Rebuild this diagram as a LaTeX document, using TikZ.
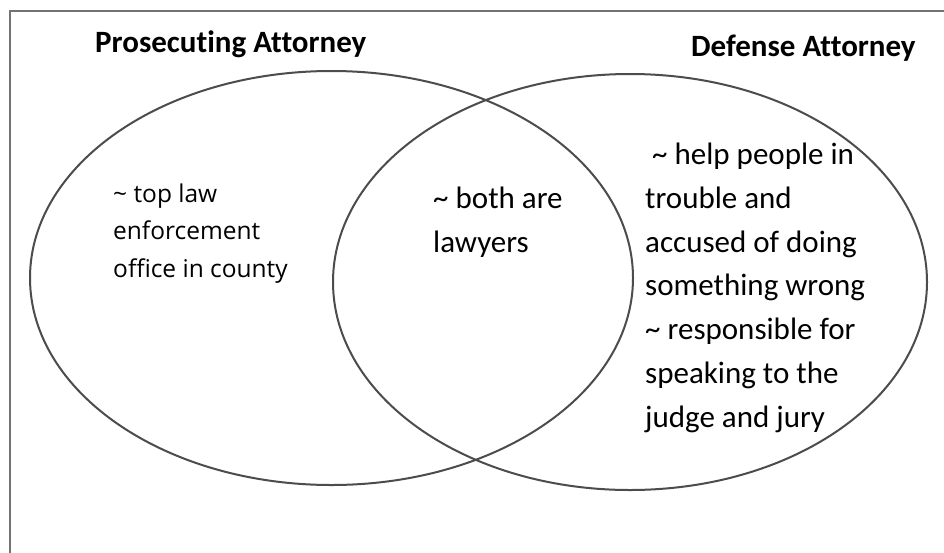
\documentclass[tikz,border=0pt]{standalone}
\usepackage{fontspec}
\setmainfont{Carlito}[Ligatures=NoCommon]
\newfontfamily\leftfont{Open Sans}

\begin{document}
\begin{tikzpicture}
  [x=1pt,y=-1pt,
    every node/.style={inner sep=0pt,anchor=base west,align=left},
    circ/.style={draw=black!70,line width=2pt},
    frame/.style={draw=black!55,line width=1.8pt},
    title/.style={font=\fontsize{31}{37}\selectfont\bfseries},
    note/.style={font=\fontsize{31}{43.7}\selectfont},
    leftnote/.style={font=\leftfont\fontsize{24.5}{37.5}\selectfont},
]
  \useasboundingbox (0,0) rectangle (944,552);
  \fill[white] (0,0) rectangle (944,552);
  % frame, only left and top show
  \draw[frame] (10,560) -- (10,11) -- (950,11);

  % the two sets
  \draw[circ] (331.5,278) ellipse [x radius=301.5, y radius=207];
  \draw[circ] (630,282) ellipse [x radius=297, y radius=208];

  \node[title] (prosecutor) at (95,52) {Prosecuting Attorney};
  \node[title] (defense) at (691,56) {Defense Attorney};

  % multi-line notes sit on the baseline of their last line
  \node[leftnote] (prosecutorNote) at (113,277)
    {\textasciitilde{} top law\\enforcement\\office in county};
  \node[note] (bothNote) at (433,252)
    {\textasciitilde{} both are\\lawyers};
  \node[note] (defenseNote) at (645,427)
    {\hspace{7pt}\textasciitilde{} help people in\\trouble and\\accused of doing\\something wrong\\\textasciitilde{} responsible for\\speaking to the\\judge and jury};
\end{tikzpicture}
\end{document}
